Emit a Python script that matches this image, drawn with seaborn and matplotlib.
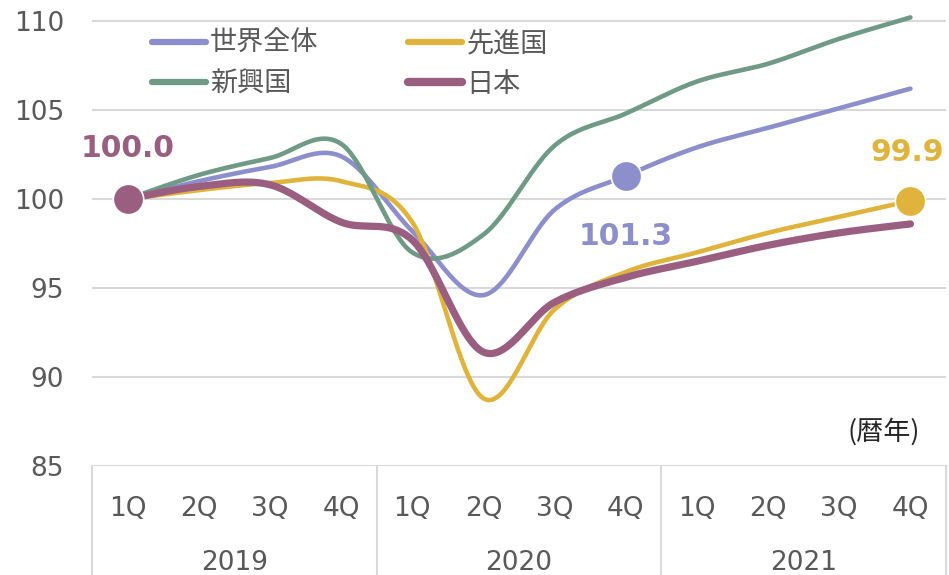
import numpy as np
import matplotlib
matplotlib.use("Agg")
import matplotlib.pyplot as plt
import matplotlib.transforms as mtransforms
from matplotlib.lines import Line2D
import seaborn as sns

# Data (index, 2019 1Q = 100)
quarters = ["1Q", "2Q", "3Q", "4Q"] * 3
years = ["2019", "2020", "2021"]
world = [100.0, 101.0, 101.8, 102.4, 98.2, 94.6, 99.4, 101.3, 102.9, 104.0, 105.1, 106.2]
advanced = [100.0, 100.5, 100.9, 101.0, 98.7, 88.8, 93.8, 95.9, 97.0, 98.1, 99.0, 99.9]
emerging = [100.0, 101.35, 102.3, 103.1, 97.0, 98.0, 103.0, 104.8, 106.6, 107.6, 109.0, 110.2]
japan = [100.0, 100.7, 100.8, 98.7, 97.7, 91.4, 94.2, 95.6, 96.5, 97.4, 98.1, 98.6]
names = ["世界全体", "先進国", "新興国", "日本"]

C_WORLD = "#8C8FCB"
C_ADV = "#E0B43C"
C_EMG = "#6F9A85"
C_JPN = "#9A5F80"
GRID = "#D9D9D9"
TXT = "#595959"

W, H = 949, 575


def smooth(vals, n=40):
    # Excel-like smoothed line (Catmull-Rom Bezier through the points)
    p = np.column_stack([np.arange(len(vals)), vals]).astype(float)
    out = []
    for i in range(len(p) - 1):
        p0 = p[max(i - 1, 0)]
        p1 = p[i]
        p2 = p[i + 1]
        p3 = p[min(i + 2, len(p) - 1)]
        c1 = p1 + (p2 - p0) / 6
        c2 = p2 - (p3 - p1) / 6
        t = np.linspace(0, 1, n)[:, None]
        seg = (1 - t) ** 3 * p1 + 3 * (1 - t) ** 2 * t * c1 + 3 * (1 - t) * t ** 2 * c2 + t ** 3 * p2
        out.append(seg if i == 0 else seg[1:])
    s = np.vstack(out)
    return s[:, 0], s[:, 1]


sns.set_theme(style="white")
plt.rcParams['font.family'] = ['DejaVu Sans', 'Noto Sans CJK JP']

fig = plt.figure(figsize=(W / 100, H / 100), dpi=100)
ax = fig.add_axes([92 / W, 1 - 466 / H, (946 - 92) / W, 466 / H])
ax.set_xlim(-0.5, 11.5)
ax.set_ylim(85, 111.18)

for y in range(85, 111, 5):
    ax.axhline(y, color=GRID, lw=1.5, zorder=0)

series = [(world, C_WORLD, 3.3), (advanced, C_ADV, 3.3),
          (emerging, C_EMG, 3.3), (japan, C_JPN, 5.2)]
for vals, col, lw in series:
    xs, ys = smooth(vals)
    sns.lineplot(x=xs, y=ys, sort=False, estimator=None, color=col,
                 lw=lw, ax=ax, solid_capstyle='round')

# highlighted points
sns.scatterplot(x=[0], y=[japan[0]], color=C_JPN, s=480, edgecolor="white",
                linewidth=1.2, zorder=5, ax=ax)
sns.scatterplot(x=[7], y=[world[7]], color=C_WORLD, s=480, edgecolor="white",
                linewidth=1.2, zorder=5, ax=ax)
sns.scatterplot(x=[11], y=[advanced[11]], color=C_ADV, s=480, edgecolor="white",
                linewidth=1.2, zorder=5, ax=ax)

lab_kw = dict(textcoords="offset points", ha="center", va="baseline",
              fontsize=21.5, fontweight="bold")
ax.annotate(f"{japan[0]:.1f}", (0, japan[0]), xytext=(0, 30), color=C_JPN, **lab_kw)
ax.annotate(f"{world[7]:.1f}", (7, world[7]), xytext=(0, -50), color=C_WORLD, **lab_kw)
ax.annotate(f"{advanced[11]:.1f}", (11, advanced[11]), xytext=(-2, 29), color=C_ADV, **lab_kw)

# axes
for sp in ax.spines.values():
    sp.set_visible(False)
ax.set_yticks(range(85, 111, 5))
ax.tick_params(axis="y", length=0, pad=20, labelsize=19, labelcolor=TXT)
ax.set_xticks([])
ax.set_xlabel("")
ax.set_ylabel("")

# category axis (quarters + years)
trans = mtransforms.blended_transform_factory(ax.transData, fig.transFigure)
for b in [-0.5, 3.5, 7.5, 11.5]:
    ax.plot([b, b], [1 - 466 / H, 0], color=GRID, lw=1.5, transform=trans,
            clip_on=False)
for i, q in enumerate(quarters):
    ax.text(i, 1 - 516 / H, q, transform=trans, ha="center", va="baseline",
            fontsize=19, color=TXT)
for j, yr in enumerate(years):
    ax.text(4 * j + 1.5, 1 - 570 / H, yr, transform=trans, ha="center",
            va="baseline", fontsize=19, color=TXT)

fig.text(920 / W, 1 - 432 / H, "(暦年)", ha="right", va="center", fontsize=19.5,
         color="#262626", family=['Noto Sans CJK JP', 'DejaVu Sans'])

# legend (row order: 世界全体 | 先進国 / 新興国 | 日本)
handles = [Line2D([], [], color=C_WORLD, lw=4.5, solid_capstyle='round'),
           Line2D([], [], color=C_EMG, lw=4.5, solid_capstyle='round'),
           Line2D([], [], color=C_ADV, lw=4.5, solid_capstyle='round'),
           Line2D([], [], color=C_JPN, lw=6, solid_capstyle='round')]
labels = [names[0], names[2], names[1], names[3]]
leg = fig.legend(handles, labels, ncol=2, loc="upper left",
                 bbox_to_anchor=(152 / W, 1 - 30 / H), frameon=False,
                 borderaxespad=0, borderpad=0, handlelength=2.0,
                 handletextpad=0.15, columnspacing=3.3, labelspacing=0.5,
                 prop={'family': ['Noto Sans CJK JP'], 'size': 19.5})
for t in leg.get_texts():
    t.set_color(TXT)

fig.savefig("out.png", dpi=100)
